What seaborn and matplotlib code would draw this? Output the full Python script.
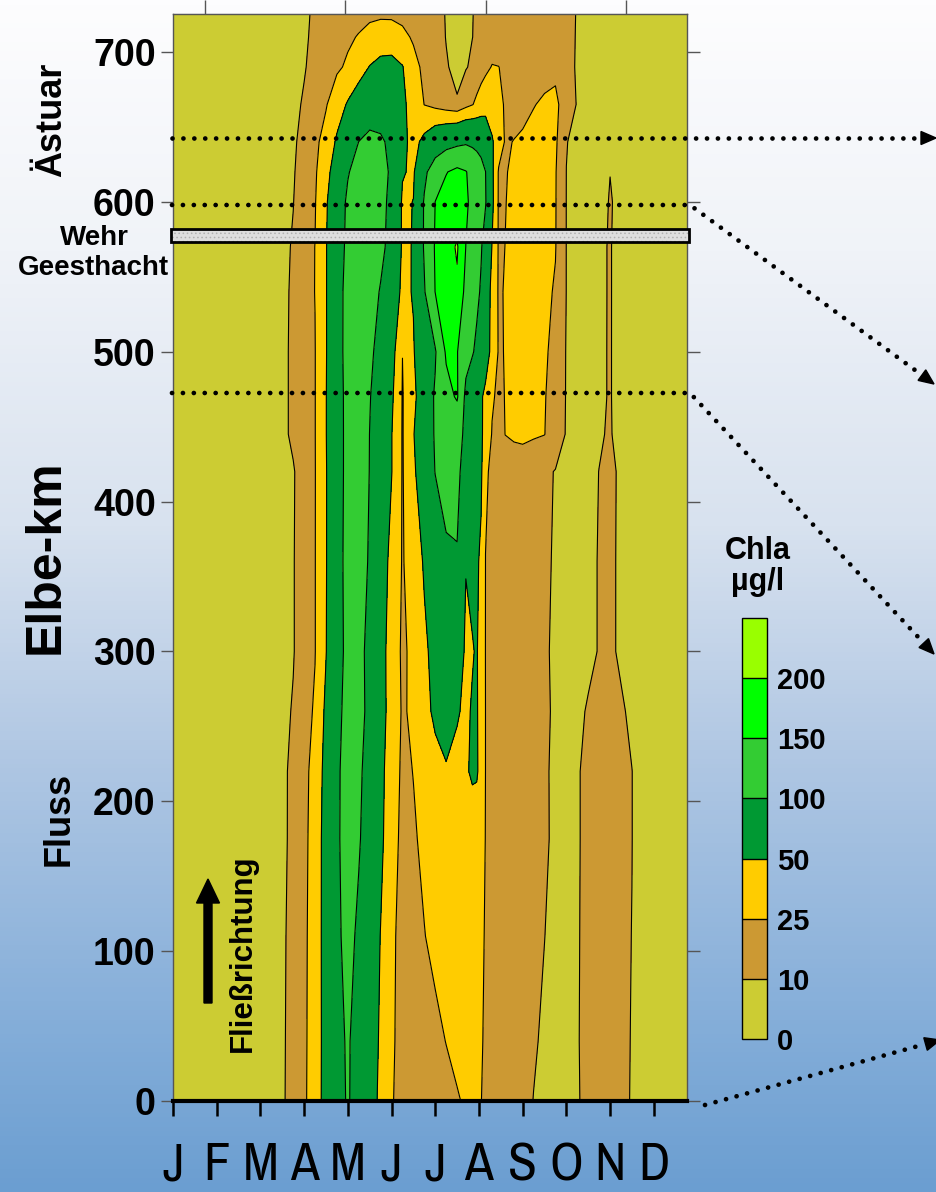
import numpy as np
import matplotlib
matplotlib.use("Agg")
import matplotlib.pyplot as plt
import seaborn as sns
from matplotlib.colors import LinearSegmentedColormap
from matplotlib.lines import Line2D
from matplotlib.patches import Rectangle, Polygon, FancyArrow

sns.set_style("white")
plt.rcParams['font.family'] = ['Liberation Sans', 'DejaVu Sans']
plt.rcParams['hatch.linewidth'] = 0.6
for k in ['text.color', 'axes.labelcolor', 'xtick.color', 'ytick.color']:
    plt.rcParams[k] = 'black'

# ---------------- data ----------------
months = [0, 2.25, 2.5, 2.75, 3.0, 3.25, 3.5, 3.75, 4.0, 4.25, 4.5, 4.75, 5.0, 5.25,
          5.5, 5.75, 6.0, 6.25, 6.5, 6.7, 6.85, 6.95, 7.05, 7.15, 7.3, 7.45, 7.6,
          7.8, 8.0, 8.25, 8.5, 8.75, 9.0, 9.25, 9.5, 9.75, 10.0, 10.25, 10.5, 10.75, 11.76]
elbe_km = [0, 40, 110, 175, 220, 260, 300, 360, 420, 445, 470, 500, 540, 570, 600,
           620, 640, 665, 690, 710, 726]

chla_km000 = [4, 5, 8.5, 14.3, 21.5, 36.6, 60.4, 84, 104, 80.9, 62.5, 44.1, 25.7, 22, 18.8, 15.6, 17.5, 20.6, 23.6, 27, 29.5, 27.3, 25.1, 23.7, 21.8, 19.9, 18, 15.5, 12.9, 9.8, 7.9, 6, 7.8, 9.6, 11.3, 13, 13.3, 11.5, 9.6, 6.1, 4]
chla_km040 = [4, 4.7, 8.4, 14, 21.3, 35.7, 60.5, 89.5, 104, 84.6, 65.4, 46.1, 26.6, 21.4, 17.6, 18.1, 21.7, 25.3, 29.5, 31.2, 28.7, 27.1, 25.5, 24.2, 22.4, 20.6, 18.8, 16.4, 14, 11, 8.6, 6.4, 7.6, 9.7, 11.4, 13, 13.3, 11.6, 9.7, 6.1, 4]
chla_km110 = [4, 4.7, 8.2, 13.5, 20.9, 35.2, 61.3, 92.5, 112, 93, 71, 49.1, 27.6, 20.8, 19.9, 24.6, 28.4, 32.1, 34.2, 31.2, 28.9, 27.4, 25.9, 24.6, 23, 21.4, 19.8, 17.6, 15.5, 12.8, 10.1, 7.5, 7, 9.6, 11.4, 13, 13.3, 11.6, 9.9, 6.2, 4]
chla_km175 = [4, 4, 7.7, 12.7, 20.2, 34, 61.8, 94.7, 114.5, 103.6, 80.8, 56.7, 31.3, 21.3, 23.5, 27.7, 31.7, 35.6, 36.3, 32.8, 30.2, 28.5, 26.7, 24.9, 23.5, 21.9, 20.4, 18.4, 16.3, 13.8, 11.2, 8.4, 6.6, 9.5, 11.4, 13, 13.3, 11.7, 10.1, 6.3, 4]
chla_km220 = [4, 4, 7.7, 12.6, 19.8, 32, 59.5, 93.2, 116.3, 107.3, 83.7, 58.2, 34.3, 22, 25.3, 33.7, 42, 48, 44, 46, 55, 54, 38, 24.9, 23.5, 21.9, 20.4, 18.3, 16.3, 13.7, 11.1, 8.4, 6.6, 9.5, 11.4, 13, 13.3, 11.7, 10.1, 6.3, 4]
chla_km260 = [4, 4, 6.9, 10.9, 18.2, 27.2, 55.3, 88.2, 114.3, 113.4, 89.1, 62, 37.9, 23, 28, 42.9, 54.7, 60.3, 52, 46, 52, 52, 41.7, 24.9, 23.5, 21.9, 20.5, 18.5, 16.4, 13.9, 11.4, 8.8, 6, 8.4, 10.7, 12.8, 13.2, 11.1, 8.4, 4.7, 4]
chla_km300 = [4, 4, 5.5, 9.3, 16.4, 24.4, 49, 82.4, 112, 113, 87.5, 61.5, 37.5, 21.9, 29.4, 45, 58.9, 72, 58.3, 47.9, 48.6, 52, 38.5, 24.7, 23.2, 21.7, 20.2, 18.2, 16.1, 13.6, 11.1, 8.6, 6, 6.2, 8.3, 10.4, 11.4, 8.7, 5.3, 4, 4]
chla_km360 = [4, 4, 5.5, 9.3, 16.4, 24.4, 48, 83.8, 113.1, 119.6, 95.5, 67, 41.1, 23.6, 34.1, 53.1, 72.3, 90, 98, 50.5, 56, 54, 45, 24.9, 23.5, 22, 20.5, 18.5, 16.6, 14.1, 11.6, 9, 6.1, 6.2, 8.3, 10.4, 11.4, 8.7, 5.3, 4, 4]
chla_km420 = [4, 4, 5.4, 9, 16, 24.3, 48, 81.9, 112, 123.2, 99, 75, 51, 23.5, 44.1, 72.8, 101, 120.8, 107.1, 86.7, 70, 62.3, 54.6, 26, 23.7, 22.3, 20.8, 18.9, 16.9, 14.5, 12, 9.5, 6.3, 6.2, 8.1, 10.1, 11.5, 8.8, 5.4, 4, 4]
chla_km445 = [4, 4, 7.3, 12.2, 18.4, 24.5, 49, 82.4, 111.6, 124.2, 99.5, 75.5, 51, 23.5, 48.4, 76.7, 103.5, 125.6, 112.4, 92.9, 75, 64.6, 54.2, 40.6, 23.8, 21.8, 25.1, 26.6, 28, 26.6, 25.3, 17.1, 9.1, 5.7, 6.9, 9.2, 10.8, 6.3, 4, 4, 4]
chla_km470 = [4, 4, 7.3, 12.2, 18.4, 24.5, 49, 82.4, 112, 127, 102, 78.3, 54.7, 23.8, 42, 72.4, 104.8, 134.5, 155, 88.8, 70, 61.7, 53.3, 43.5, 27.2, 21.4, 25.5, 27.5, 29.5, 28.2, 25.9, 18.4, 9.3, 6.6, 6, 8.6, 10.6, 6.1, 4, 4, 4]
chla_km500 = [4, 4, 7.3, 12.2, 18.4, 24.5, 48, 83.8, 113.6, 132.2, 108.5, 84.9, 61.3, 25.2, 48, 72.1, 96.2, 156, 152, 116.4, 103.4, 91.7, 77.8, 63.9, 42.2, 23.3, 25.6, 28.2, 30.7, 30.2, 27.1, 20.6, 9.3, 6.6, 6, 8.6, 10.6, 6.1, 4, 4, 4]
chla_km540 = [4, 4, 7.2, 11.8, 18.4, 25.3, 48.1, 83.8, 113, 136.3, 120.5, 96.6, 68.2, 44.4, 51.5, 96.7, 151, 181.3, 192, 135.4, 119.6, 108.7, 95.5, 72.7, 40.4, 23, 26, 28.8, 31.6, 31.1, 27.9, 23.8, 9.8, 6.8, 6, 8.5, 10.6, 6.2, 4, 4, 4]
chla_km570 = [4, 4, 6.9, 11.1, 18.1, 25.2, 48.1, 81.1, 108.6, 128.2, 132, 112, 83.3, 46.2, 51, 104.3, 154.1, 179.9, 205, 149.5, 131, 117.6, 102.9, 82.6, 49, 22.9, 25.1, 28.1, 31, 33.2, 29.4, 25.6, 9.8, 6.8, 6, 8.5, 10.6, 6.2, 4, 4, 4]
chla_km600 = [4, 4, 5.6, 9.7, 16.6, 23.8, 46, 78.4, 106.2, 123.3, 129.5, 112.4, 89.4, 46, 50.5, 103.7, 150.5, 165.6, 168.4, 155.3, 141.3, 128.8, 115.8, 102.6, 56.7, 22.7, 24.6, 27.9, 30.9, 33.3, 29.5, 25.8, 9.8, 7.4, 5, 7.3, 10.5, 8.2, 4, 4, 4]
chla_km620 = [4, 4, 5.4, 9, 15.2, 22.4, 39.8, 67.1, 97.6, 113.4, 128, 112.8, 94.6, 52, 46, 91.4, 123.3, 148.2, 160, 152, 137.5, 125, 112.5, 100.5, 55.9, 23, 24.1, 27.4, 30.2, 32.4, 29.2, 26, 9.9, 7, 4, 6, 9.9, 6, 4, 4, 4]
chla_km640 = [4, 4, 4.7, 8.3, 13.6, 20.6, 32.5, 53.8, 77.4, 100.4, 111.5, 107.3, 88.8, 57.5, 41.1, 57.5, 73.8, 83.1, 90, 95, 91.3, 88.8, 86.3, 77, 53.2, 35.9, 23.5, 25.4, 27.7, 30.4, 28.9, 27.5, 10.4, 7.1, 4, 4, 4, 4, 4, 4, 4]
chla_km665 = [4, 4, 4, 7.3, 11.2, 17.4, 23.5, 37.5, 52.7, 64.1, 75.5, 74.2, 64.4, 54.7, 41, 24.6, 19.6, 14.7, 10.6, 19, 24.3, 28.6, 33.2, 37.7, 35.5, 28.6, 23.7, 19.9, 19.8, 24.3, 27.5, 28, 18.2, 9, 5.4, 4, 4, 4, 4, 4, 4]
chla_km690 = [4, 4, 4, 6, 9.2, 13.5, 18, 22, 27.9, 40.2, 50.9, 55.3, 56, 51.2, 32.4, 19.9, 13.4, 10.5, 8.4, 9.25, 11.9, 15.2, 18.4, 21.2, 25.8, 25.2, 22.7, 20, 19.2, 18.2, 19, 22, 12.9, 9.1, 5.5, 4, 4, 4, 4, 4, 4]
chla_km710 = [4, 4, 4, 5.8, 8.7, 11.9, 15.3, 18.7, 22.1, 26.2, 33.4, 40.7, 40.9, 30.7, 22.3, 16.2, 12.7, 9.8, 7.5, 8.5, 9.9, 11.4, 13, 14.6, 17, 17.4, 17.9, 18.4, 19, 17.6, 16.1, 14.5, 12.1, 9.5, 5.6, 4, 4, 4, 4, 4, 4]
chla_km726 = [4, 4, 4, 5.7, 8.6, 11.2, 13.5, 15.7, 18, 19, 19.5, 19.5, 19, 18.5, 17.6, 15.4, 12.6, 9.6, 7.4, 8.4, 9.8, 10.9, 12, 13.1, 14.8, 16.4, 17, 17, 17, 17, 15.5, 13.6, 11.7, 9.7, 5.6, 4, 4, 4, 4, 4, 4]

levels = [0, 10, 25, 50, 100, 150, 200, 250]
level_colors = ['#cccc33', '#cc9933', '#ffcc00', '#009933', '#33cc33', '#00ff00', '#99ff00']
cbar_ticks = [0, 10, 25, 50, 100, 150, 200]
month_labels = ['J', 'F', 'M', 'A', 'M', 'J', 'J', 'A', 'S', 'O', 'N', 'D']
month_ticks = [0, 1, 2, 3, 4, 5, 6, 7, 8, 9, 10, 11]
km_ticks = [0, 100, 200, 300, 400, 500, 600, 700]
top_ticks = [0.73, 3.93, 7.15, 10.37]

Z = np.array([chla_km000, chla_km040, chla_km110, chla_km175, chla_km220, chla_km260,
              chla_km300, chla_km360, chla_km420, chla_km445, chla_km470, chla_km500,
              chla_km540, chla_km570, chla_km600, chla_km620, chla_km640, chla_km665,
              chla_km690, chla_km710, chla_km726])

# ---------------- figure ----------------
W, H = 937, 1192
fig = plt.figure(figsize=(W / 100, H / 100), dpi=100)

def to_in(x, y):
    return x / 100.0, (H - y) / 100.0

bg = fig.add_axes([0, 0, 1, 1], zorder=-10)
bg.axis('off')
grad = LinearSegmentedColormap.from_list(
    'bg', [(0, '#fdfdfe'), (0.21, '#f0f3f8'), (0.44, '#d8e2ef'),
           (0.62, '#b3c9e4'), (0.84, '#88b0da'), (1, '#6b9ed1')])
bg.imshow(np.linspace(0, 1, 256).reshape(-1, 1), aspect='auto', cmap=grad,
          extent=[0, 1, 0, 1])

ax = fig.add_axes([173 / W, 1 - 1101 / H, 514 / W, 1087 / H])
ax.set_facecolor(level_colors[0])
cf = ax.contourf(months, elbe_km, Z, levels=levels, colors=level_colors)
ax.contour(months, elbe_km, Z, levels=levels[1:-1], colors='black', linewidths=0.8)
ax.set_xlim(0, 11.76)
ax.set_ylim(0, 725.4)

narrow = ['Archivo Narrow', 'Liberation Sans', 'DejaVu Sans']
ax.set_xticks(month_ticks)
ax.set_xticklabels(month_labels, fontsize=38, family=narrow)
ax.tick_params(axis='x', direction='out', length=11, width=1.8, color='black',
               pad=18, bottom=True)
ax.set_yticks(km_ticks)
ax.set_yticklabels([str(v) for v in km_ticks], fontsize=27, fontweight='bold')
ax.tick_params(axis='y', direction='out', length=9, width=1, color='#555555',
               pad=3.5, left=True, right=True, labelright=False)
for s in ['left', 'top', 'right']:
    ax.spines[s].set_color('#555555')
    ax.spines[s].set_linewidth(1)
ax.spines['bottom'].set_color('black')
ax.spines['bottom'].set_linewidth(3)

top = ax.secondary_xaxis('top')
top.set_xticks(top_ticks)
top.set_xticklabels([])
top.tick_params(direction='out', length=10, width=1, color='#555555')
top.spines['top'].set_color('#555555')

cax = fig.add_axes([742 / W, 1 - 1039 / H, 25 / W, 421 / H])
cb = fig.colorbar(cf, cax=cax, spacing='uniform', ticks=cbar_ticks, drawedges=True)
cb.outline.set_edgecolor('black')
cb.outline.set_linewidth(1)
cb.dividers.set_color('black')
cb.dividers.set_linewidth(1)
cax.tick_params(length=0, pad=7, labelsize=21)
for t in cax.get_yticklabels():
    t.set_fontweight('bold')
fig.text(758 / W, 1 - 551 / H, 'Chla', ha='center', va='center', fontsize=22, fontweight='bold')
fig.text(758 / W, 1 - 582 / H, 'µg/l', ha='center', va='center', fontsize=22, fontweight='bold')

fig.text(52 / W, 1 - 120 / H, 'Ästuar', rotation=90, ha='center', va='center',
         fontsize=26, fontweight='bold')
fig.text(46 / W, 1 - 557 / H, 'Elbe-km', rotation=90, ha='center', va='center',
         fontsize=36, fontweight='bold')
fig.text(59 / W, 1 - 819 / H, 'Fluss', rotation=90, ha='center', va='center',
         fontsize=26, fontweight='bold')
fig.text(94 / W, 1 - 238 / H, 'Wehr', ha='center', va='center', fontsize=20, fontweight='bold')
fig.text(93 / W, 1 - 268 / H, 'Geesthacht', ha='center', va='center', fontsize=20,
         fontweight='bold')
fig.text(243 / W, 1 - 953 / H, 'Fließrichtung', rotation=90, ha='center', va='center',
         fontsize=22.5, fontweight='bold')

x0, y0 = to_in(208, 1003)
fig.add_artist(FancyArrow(x0, y0, 0, 1.24, width=0.08, head_width=0.23, head_length=0.24,
                          length_includes_head=True, color='black',
                          transform=fig.dpi_scale_trans))

bx, by = to_in(171, 242)
fig.add_artist(Rectangle((bx, by), 5.18, 0.13, transform=fig.dpi_scale_trans,
                         facecolor='#dedede', edgecolor='#b0b0b0', hatch='....', lw=0))
fig.add_artist(Rectangle((bx, by), 5.18, 0.13, transform=fig.dpi_scale_trans,
                         fill=False, edgecolor='black', lw=2))

def dotted_arrow(pts, head_len=15, head_w=13):
    (xa, ya), (xb, yb) = pts[-2], pts[-1]
    d = np.hypot(xb - xa, yb - ya)
    ux, uy = (xb - xa) / d, (yb - ya) / d
    hx, hy = xb - ux * head_len, yb - uy * head_len
    line_pts = list(pts[:-1]) + [(hx, hy)]
    xs, ys = zip(*[to_in(*p) for p in line_pts])
    fig.add_artist(Line2D(xs, ys, transform=fig.dpi_scale_trans, color='black', lw=3.4,
                          linestyle=(0, (0.01, 2.3)), dash_capstyle='round'))
    px, py = -uy, ux
    tri = [(xb, yb), (hx + px * head_w / 2, hy + py * head_w / 2),
           (hx - px * head_w / 2, hy - py * head_w / 2)]
    fig.add_artist(Polygon([to_in(*p) for p in tri], closed=True,
                           transform=fig.dpi_scale_trans, color='black'))

dotted_arrow([(172, 138), (936, 138)])
dotted_arrow([(172, 205), (690, 205), (934, 384)])
dotted_arrow([(172, 393), (690, 393), (934, 654)])
dotted_arrow([(705, 1105), (940, 1040)])

fig.savefig('out.png', dpi=100)
